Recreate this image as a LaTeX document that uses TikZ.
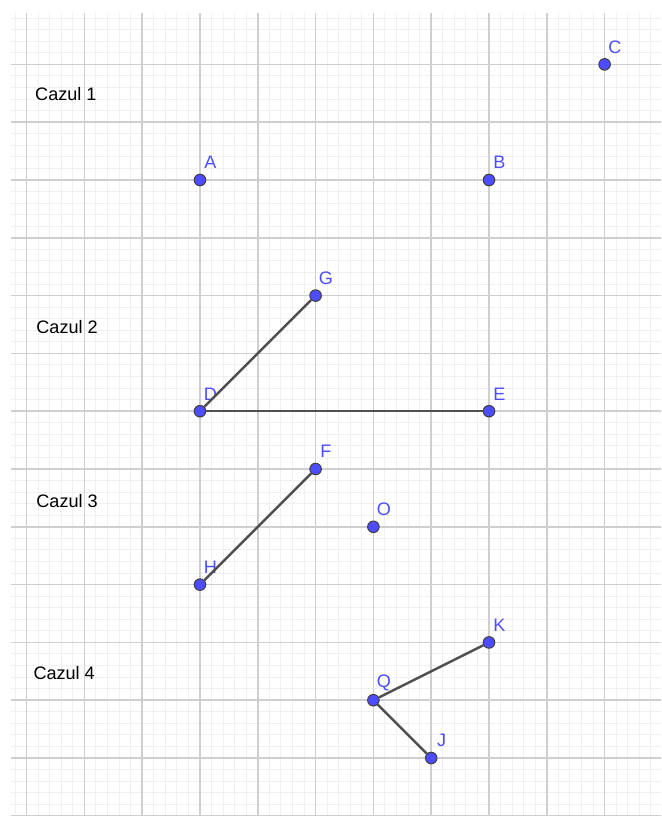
\documentclass[tikz,border=0pt]{standalone}
\usepackage{fontspec}
\setmainfont{Liberation Sans}
\usetikzlibrary{calc}
\definecolor{ptblue}{RGB}{77,77,255}
\definecolor{segcol}{RGB}{80,80,80}
\tikzset{
  pt/.style={circle, fill=ptblue, draw=black!75, line width=0.5pt, inner sep=0pt, minimum size=0.2cm},
  ptlbl/.style={text=ptblue, inner sep=0pt, font=\fontsize{8.9}{10.7}\selectfont},
  caselbl/.style={text=black, inner sep=0pt, font=\fontsize{8.9}{10.7}\selectfont},
  seg/.style={segcol, line width=1.2pt}
}
\begin{document}
\begin{tikzpicture}
    \useasboundingbox (-3.460,-11.003) rectangle (7.976,3.114);
    % Grid
    \draw[gray!12, line width=0.5pt, step=0.2] (-3.27,-11.0) grid (7.976,2.889);
    \draw[gray!38, line width=0.8pt, step=1] (-3.27,-11.0) grid (7.976,2.889);

    % Case titles
    \node[caselbl] (caz1) at (-2.32,1.49) {Cazul 1};
    \node[caselbl] (caz2) at (-2.30,-2.54) {Cazul 2};
    \node[caselbl] (caz3) at (-2.30,-5.55) {Cazul 3};
    \node[caselbl] (caz4) at (-2.35,-8.53) {Cazul 4};

    % Points and their labels
    \foreach \n/\x/\y in {A/0/0, B/5/0, C/7/2, G/2/-2, D/0/-4, E/5/-4,
                          F/2/-5, H/0/-7, O/3/-6, K/5/-8, Q/3/-9, J/4/-10} {
        \node[pt] (\n) at (\x,\y) {};
        \node[ptlbl] (l\n) at ($(\n)+(0.18,0.3)$) {\n};
    }

    % Segments
    \draw[seg] (D) -- (G);
    \draw[seg] (D) -- (E);
    \draw[seg] (H) -- (F);
    \draw[seg] (Q) -- (K);
    \draw[seg] (Q) -- (J);
\end{tikzpicture}
\end{document}
